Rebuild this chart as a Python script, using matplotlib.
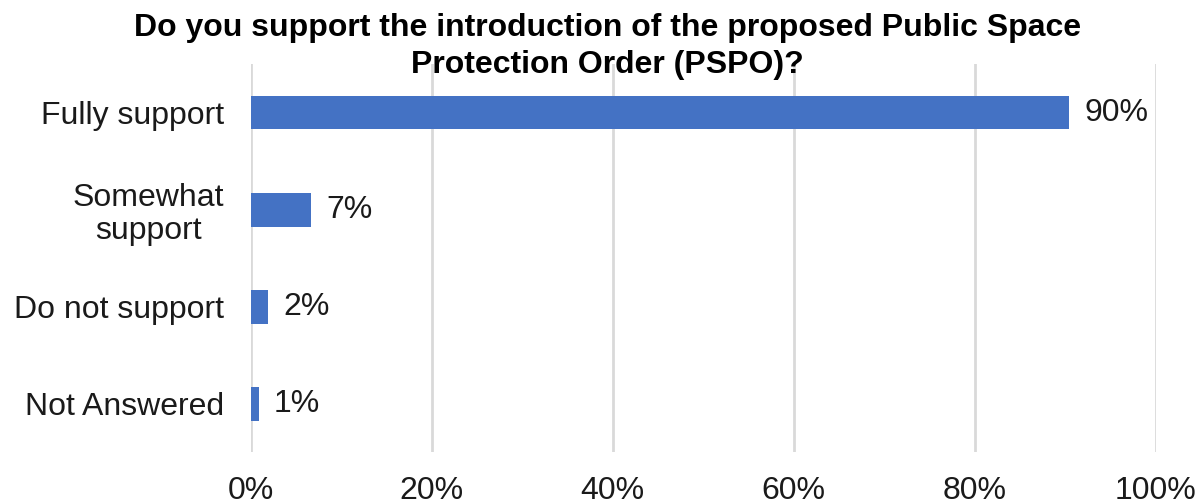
import matplotlib.pyplot as plt

plt.rcParams['font.family'] = ['Liberation Sans', 'DejaVu Sans']

categories = ['Fully support', 'Somewhat\nsupport', 'Do not support', 'Not Answered']
values = [90.4, 6.7, 1.9, 0.9]
value_labels = ['90%', '7%', '2%', '1%']
xticks = [0, 20, 40, 60, 80, 100]
xtick_labels = ['0%', '20%', '40%', '60%', '80%', '100%']

fig = plt.figure(figsize=(12.01, 5.04), dpi=100)
ax = fig.add_axes([0.2086, 0.103, 0.7539, 0.770])

y = list(range(len(categories)))
ax.barh(y, values, height=0.35, color='#4472C4', zorder=3)
for yi, v, lab in zip(y, values, value_labels):
    ax.text(v + 1.7, yi, lab, va='center', ha='left', fontsize=23, color='#1a1a1a')

ax.set_xlim(0, 100)
ax.set_ylim(len(categories) - 0.5, -0.5)
ax.set_yticks(y)
ax.set_yticklabels(categories, fontsize=23, color='#1a1a1a', ha='right',
                   multialignment='center', linespacing=1.15)
ax.set_xticks(xticks)
ax.set_xticklabels(xtick_labels, fontsize=23, color='#1a1a1a')
ax.tick_params(axis='both', length=0)
ax.tick_params(axis='y', pad=19)
ax.tick_params(axis='x', pad=17)
ax.grid(axis='x', color='#d9d9d9', linewidth=2, zorder=0)
for s in ax.spines.values():
    s.set_visible(False)

fig.text(0.506, 0.974, 'Do you support the introduction of the proposed Public Space\nProtection Order (PSPO)?',
         ha='center', va='top', fontsize=23, fontweight='bold', linespacing=1.3)

fig.savefig('out.png', dpi=100)
